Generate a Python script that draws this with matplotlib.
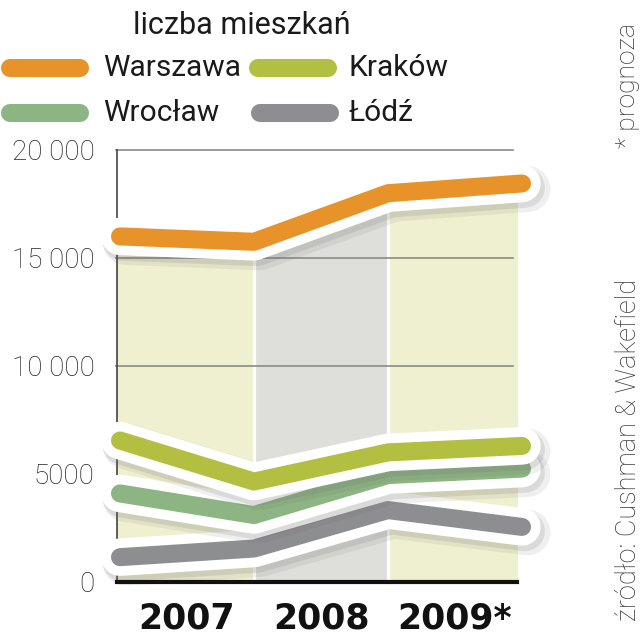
import matplotlib
matplotlib.use("Agg")
import matplotlib.pyplot as plt
import matplotlib.patheffects as pe
import numpy as np

# ---- data ----
years = ["2007", "2008", "2009*"]
series_names = ["Warszawa", "Kraków", "Wrocław", "Łódź"]
warszawa = [16000, 15750, 18000, 18450]
krakow = [6550, 4650, 6000, 6300]
wroclaw = [4100, 3100, 4950, 5250]
lodz = [1150, 1550, 3330, 2550]
yticks = [0, 5000, 10000, 15000, 20000]
ytick_labels = ["0", "5000", "10 000", "15 000", "20 000"]

colors = {"Warszawa": "#E8922A", "Kraków": "#B2BF40",
          "Wrocław": "#8CB583", "Łódź": "#8D8E90"}
band_colors = ["#EFF0D0", "#DEDFDA", "#EFF0D0"]

FONT = ["Roboto", "DejaVu Sans"]
plt.rcParams["font.family"] = FONT

fig = plt.figure(figsize=(6.41, 6.40), dpi=100)
W, H = 641, 640
ax_l, ax_r, ax_t, ax_b = 117, 517, 150, 582
ax = fig.add_axes([ax_l / W, 1 - ax_b / H, (ax_r - ax_l) / W, (ax_b - ax_t) / H])

x0_px, step_px = 120, 134
ax.set_xlim((ax_l - x0_px) / step_px, (ax_r - x0_px) / step_px)
ax.set_ylim(0, 20000)

xs = np.arange(len(warszawa))

# background bands, reaching up to just under the top line
gap = 0.012
for i, c in enumerate(band_colors):
    xa, xb = i + (gap if i > 0 else -0.05), i + 1 - gap
    xx = np.linspace(xa, xb, 30)
    top = np.interp(xx, xs, warszawa) + 750
    ax.fill_between(xx, 0, top, color=c, lw=0, zorder=1)

# gridlines
for yv in [10000, 15000, 20000]:
    ax.plot([ax.get_xlim()[0] - 0.01, ax.get_xlim()[1] - 0.03], [yv, yv],
            color="#8a8a8a", lw=1.2, zorder=2, clip_on=False)

# lines
data = {"Warszawa": warszawa, "Kraków": krakow, "Wrocław": wroclaw, "Łódź": lodz}
order = ["Łódź", "Wrocław", "Kraków", "Warszawa"]
for z, name in enumerate(order):
    ax.plot(xs, data[name], color=colors[name], lw=13, solid_capstyle="round",
            solid_joinstyle="round", zorder=5 + z, clip_on=False,
            path_effects=[pe.SimpleLineShadow(offset=(4, -4), shadow_color="#666666",
                                              alpha=0.10, linewidth=33),
                          pe.SimpleLineShadow(offset=(2, -3), shadow_color="#666666",
                                              alpha=0.15, linewidth=29),
                          pe.Stroke(linewidth=27, foreground="white"),
                          pe.Normal()])

# axes styling
for s in ["top", "right"]:
    ax.spines[s].set_visible(False)
ax.spines["left"].set_color("#444444")
ax.spines["left"].set_linewidth(1.2)
ax.spines["bottom"].set_color("#111111")
ax.spines["bottom"].set_linewidth(3)
ax.spines["bottom"].set_zorder(20)
ax.set_yticks(yticks)
ax.set_yticklabels(ytick_labels, fontsize=20, color="#222222", fontweight="light")
ax.tick_params(axis="y", length=0, pad=16)
ax.set_xticks(xs[:-1] + 0.5)
ax.set_xticklabels(years, fontsize=25, fontweight="bold", color="#111111",
                   family=["DejaVu Sans"])
ax.tick_params(axis="x", length=0, pad=14)
ax.set_facecolor("none")

# title
fig.text(242 / W, 1 - 26 / H, "liczba mieszkań", ha="center", va="center",
         fontsize=22, color="#1a1a1a")

# legend
leg_items = [("Warszawa", 10, 80, 103, 68), ("Kraków", 258, 328, 348, 68),
             ("Wrocław", 10, 80, 103, 113), ("Łódź", 260, 330, 348, 113)]
for name, xa, xb, xt, yy in leg_items:
    fig.add_artist(plt.Line2D([xa / W, xb / W], [1 - yy / H, 1 - yy / H],
                              color=colors[name], lw=13, solid_capstyle="round",
                              transform=fig.transFigure))
    fig.text(xt / W, 1 - yy / H, name, ha="left", va="center",
             fontsize=21.5, color="#1a1a1a")

# side notes
fig.text(628 / W, 1 - 86 / H, "* prognoza", rotation=90, ha="center", va="center",
         fontsize=19, color="#333333", fontweight="light")
fig.text(628 / W, 1 - 450 / H, "źródło: Cushman & Wakefield", rotation=90,
         ha="center", va="center", fontsize=19.5, color="#333333", fontweight="light")

fig.savefig("out.png", dpi=100)
